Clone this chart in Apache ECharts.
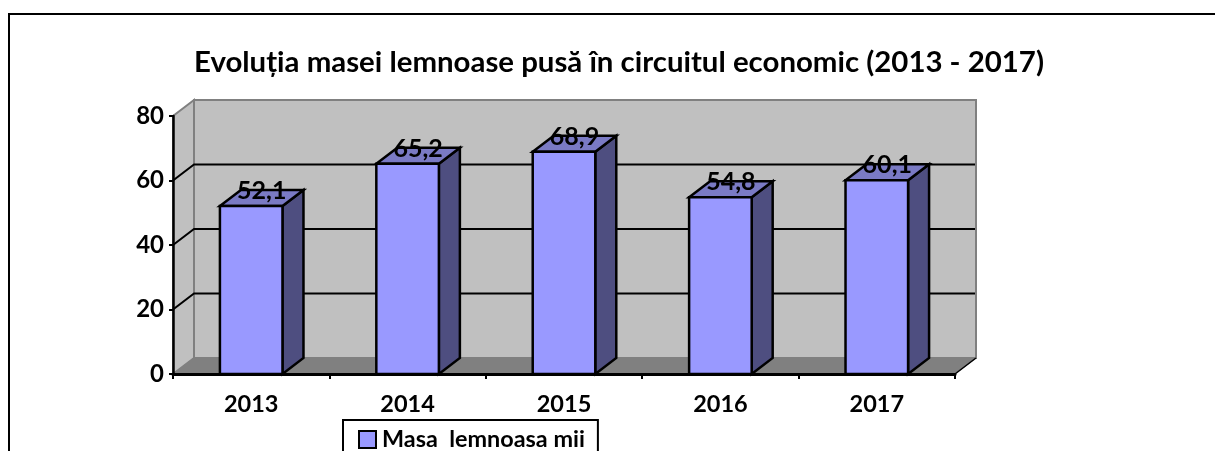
<!DOCTYPE html>
<html><head><meta charset="utf-8">
<style>html,body{margin:0;padding:0;background:#fff;overflow:hidden}#c{width:1215px;height:451px}</style>
<script src="https://cdn.jsdelivr.net/npm/echarts@6/dist/echarts.min.js"></script>
</head><body><div id="c"></div>
<script>
const categories = ['2013','2014','2015','2016','2017'];
const values = [52.1,65.2,68.9,54.8,60.1];
const valueLabels = ['52,1','65,2','68,9','54,8','60,1'];
const gridTicks = [20,40,60];
const titleText = 'Evoluția masei lemnoase pusă în circuitul economic (2013 - 2017)';
const seriesName = 'Masa  lemnoasa mii';

const DX = 21, DY = -16;
const FONT = 'Lato';
const chart = echarts.init(document.getElementById('c'), null, {renderer:'canvas'});

function poly(points, fill, stroke, lw){
  return {type:'polygon', shape:{points}, style:{fill, stroke:stroke||null, lineWidth:lw||0, lineJoin:'miter'}};
}
function renderWalls(params, api){
  const cs = params.coordSys;
  const x0 = cs.x, x1 = cs.x + cs.width, yb = cs.y + cs.height, yt = cs.y;
  const kids = [
    poly([[x0+DX,yt+DY],[x1+DX,yt+DY],[x1+DX,yb+DY],[x0+DX,yb+DY]], '#c0c0c0', '#808080', 2),
    poly([[x0,yt],[x0+DX,yt+DY],[x0+DX,yb+DY],[x0,yb]], '#c0c0c0', '#808080', 2),
    poly([[x0,yb],[x1,yb],[x1+DX,yb+DY],[x0+DX,yb+DY]], '#808080', '#808080', 1)
  ];
  kids.push({type:'line', shape:{x1:x1,y1:yb,x2:x1+DX,y2:yb+DY}, style:{stroke:'#000',lineWidth:1.5}});
  gridTicks.forEach(t=>{
    const y = api.coord([0,t])[1];
    kids.push({type:'polyline', shape:{points:[[x0,y],[x0+DX,y+DY],[x1+DX-1,y+DY]]}, style:{fill:null,stroke:'#000',lineWidth:2}});
  });
  return {type:'group', children:kids};
}
function renderBar(params, api){
  const i = api.value(0), v = api.value(1);
  const top = api.coord([i,v]), base = api.coord([i,0]);
  const w = api.size([1,0])[0] * 0.4;
  const l = top[0]-w/2, r = top[0]+w/2, t = top[1], b = base[1];
  const s = {stroke:'#000', lineWidth:2.5};
  const mk = (pts,fill)=>({type:'polygon',shape:{points:pts},style:Object.assign({fill},s)});
  return {type:'group', children:[
    mk([[r,b],[r+DX,b+DY],[r+DX,t+DY],[r,t]], '#4e4e80'),
    mk([[l,t],[r,t],[r+DX,t+DY],[l+DX,t+DY]], '#7a7ac4'),
    mk([[l,t],[r,t],[r,b],[l,b]], '#9999ff'),
    {type:'text', z2:10, style:{text:valueLabels[i], x:top[0]+10.5, y:t-15, align:'center', verticalAlign:'middle',
      font:'bold 25px '+FONT, fill:'#000'}}
  ]};
}
chart.setOption({
  animation:false,
  backgroundColor:'#fff',
  title:{text:titleText, left:189, top:43, textStyle:{fontFamily:FONT,fontWeight:'bold',fontSize:29.4,color:'#000'}},
  grid:{left:173, right:260, top:116, bottom:77, containLabel:false},
  legend:{
    left:343, top:420, orient:'horizontal', padding:[8,13,12,15],
    borderColor:'#000', borderWidth:2, backgroundColor:'#fff',
    itemWidth:17, itemHeight:17, itemGap:0,
    textStyle:{fontFamily:FONT,fontWeight:'bold',fontSize:23.4,color:'#000',padding:[0,0,0,1]},
    data:[{name:seriesName, icon:'rect', itemStyle:{color:'#9999ff',borderColor:'#000',borderWidth:2}}]
  },
  xAxis:{type:'category', data:categories, z:5,
    axisLine:{show:true,lineStyle:{color:'#000',width:3}},
    axisTick:{show:true,alignWithLabel:false,length:5,lineStyle:{color:'#000',width:2}},
    axisLabel:{fontFamily:FONT,fontWeight:'bold',fontSize:23.5,color:'#000',margin:18}},
  yAxis:{type:'value', min:0, max:80, interval:20, z:5,
    axisLine:{show:true,lineStyle:{color:'#000',width:2.5}},
    axisTick:{show:true,length:4,lineStyle:{color:'#000',width:2}},
    axisLabel:{fontFamily:FONT,fontWeight:'bold',fontSize:24,color:'#000',margin:9},
    splitLine:{show:false}},
  graphic:[{type:'polyline', silent:true, z:20, shape:{points:[[9,451],[9,14],[1215,14]]}, style:{fill:null,stroke:'#000',lineWidth:2}}],
  series:[
    {type:'custom', name:'walls', coordinateSystem:'cartesian2d', silent:true, z:1, clip:false, data:[[0,0]], renderItem:renderWalls},
    {type:'custom', name:seriesName, coordinateSystem:'cartesian2d', silent:true, z:3, clip:false,
      itemStyle:{color:'#9999ff'}, encode:{x:0,y:1},
      data:values.map((v,i)=>[i,v]), renderItem:renderBar}
  ]
});
</script></body></html>
